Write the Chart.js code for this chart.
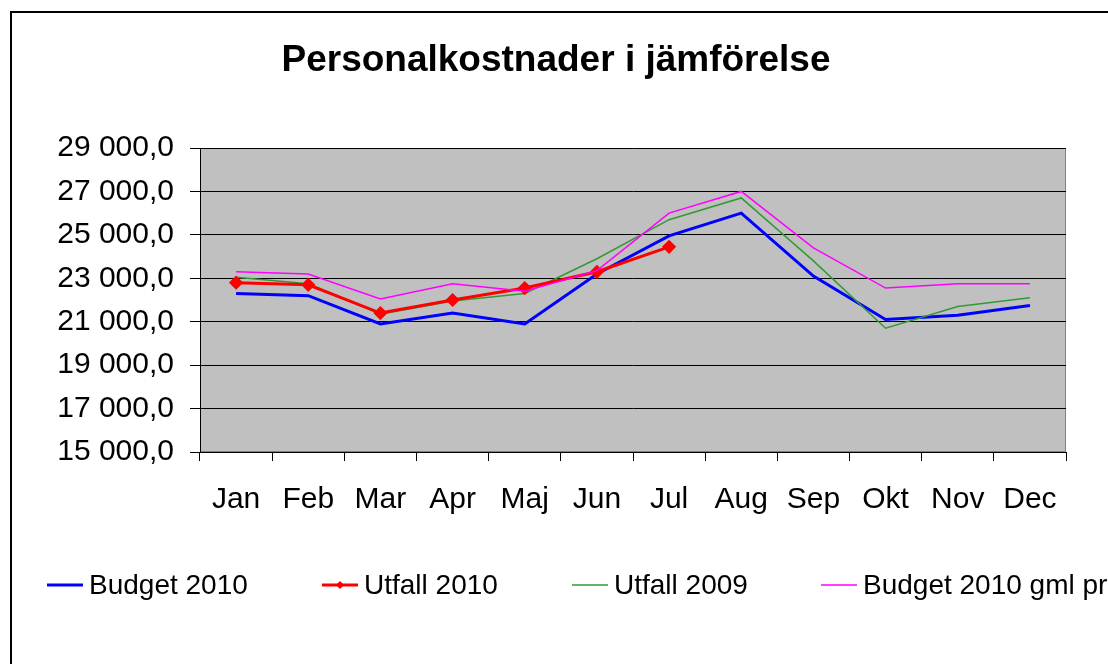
<!DOCTYPE html>
<html>
<head>
<meta charset="utf-8">
<script src="https://cdn.jsdelivr.net/npm/chart.js@4/dist/chart.umd.min.js"></script>
<style>
  html, body { margin: 0; padding: 0; background: #ffffff; overflow: hidden; }
  #wrap { position: relative; width: 1108px; height: 664px; }
</style>
</head>
<body>
<div id="wrap"><canvas id="c" width="1108" height="664"></canvas></div>
<script>
const months = ['Jan', 'Feb', 'Mar', 'Apr', 'Maj', 'Jun', 'Jul', 'Aug', 'Sep', 'Okt', 'Nov', 'Dec'];
const budget2010 = [22300, 22200, 20900, 21400, 20900, 23200, 24950, 26000, 23100, 21100, 21300, 21750];
const utfall2010 = [22800, 22700, 21400, 22000, 22550, 23300, 24450, null, null, null, null, null];
const utfall2009 = [23050, 22750, 21350, 21950, 22300, 23900, 25700, 26700, 23800, 20700, 21700, 22100];
const budget2010Gml = [23300, 23200, 22050, 22750, 22400, 23350, 26000, 27000, 24400, 22550, 22750, 22750];
const seriesNames = ['Budget 2010', 'Utfall 2010', 'Utfall 2009', 'Budget 2010 gml pri'];
const yMin = 15000, yMax = 29000, yStep = 2000;

const FONT = '"Liberation Sans", Arial, sans-serif';

function fmt(v) {
  return Math.round(v).toString().replace(/\B(?=(\d{3})+(?!\d))/g, ' ') + ',0';
}

const framePlugin = {
  id: 'frame',
  beforeDraw(chart) {
    const ctx = chart.ctx;
    ctx.save();
    ctx.fillStyle = '#ffffff';
    ctx.fillRect(0, 0, chart.width, chart.height);
    ctx.strokeStyle = '#000000';
    ctx.lineWidth = 2;
    ctx.strokeRect(11, 12, chart.width + 50, chart.height + 50);
    const a = chart.chartArea;
    ctx.fillStyle = '#C0C0C0';
    ctx.fillRect(a.left, a.top, a.right - a.left, a.bottom - a.top);
    ctx.strokeStyle = '#808080';
    ctx.lineWidth = 1;
    ctx.strokeRect(a.left + 0.5, a.top + 0.5, a.right - a.left - 1, a.bottom - a.top - 1);
    ctx.restore();
  }
};

const legendPlugin = {
  id: 'customLegend',
  afterDraw(chart, args, opts) {
    const ctx = chart.ctx;
    ctx.save();
    ctx.font = opts.font;
    ctx.textBaseline = 'middle';
    ctx.textAlign = 'left';
    chart.data.datasets.forEach((ds, i) => {
      const x = opts.xs[i], y = opts.y;
      ctx.strokeStyle = ds.borderColor;
      ctx.lineWidth = ds.borderWidth;
      ctx.beginPath();
      ctx.moveTo(x, y);
      ctx.lineTo(x + opts.lineLen, y);
      ctx.stroke();
      if (ds.pointRadius > 0) {
        ctx.fillStyle = ds.pointBackgroundColor;
        Chart.helpers.drawPoint(ctx, {pointStyle: ds.pointStyle, radius: ds.pointRadius - 1, borderWidth: 0, rotation: 0}, x + opts.lineLen / 2, y);
      }
      ctx.fillStyle = '#000000';
      ctx.fillText(ds.label, x + opts.lineLen + opts.gap, y + 1);
    });
    ctx.restore();
  }
};

new Chart(document.getElementById('c'), {
  type: 'line',
  data: {
    labels: months,
    datasets: [
      { label: seriesNames[0], data: budget2010, borderColor: '#0000FF', backgroundColor: '#0000FF', borderWidth: 3, pointRadius: 0, order: 3 },
      { label: seriesNames[1], data: utfall2010, borderColor: '#FF0000', backgroundColor: '#FF0000', pointBackgroundColor: '#FF0000', pointBorderColor: '#FF0000', borderWidth: 3, pointRadius: 5, pointStyle: 'rectRot', order: 1 },
      { label: seriesNames[2], data: utfall2009, borderColor: '#339933', backgroundColor: '#339933', borderWidth: 1.5, pointRadius: 0, order: 2 },
      { label: seriesNames[3], data: budget2010Gml, borderColor: '#FF00FF', backgroundColor: '#FF00FF', borderWidth: 1.5, pointRadius: 0, order: 0 }
    ]
  },
  options: {
    responsive: false,
    animation: false,
    layout: { padding: { left: 46, right: 42, top: 0, bottom: 132 } },
    plugins: {
      legend: { display: false },
      tooltip: { enabled: false },
      title: {
        display: true,
        text: 'Personalkostnader i jämförelse',
        color: '#000000',
        font: { family: FONT, size: 37, weight: 'bold' },
        padding: { top: 39, bottom: 64.6 }
      },
      customLegend: {
        xs: [47, 322, 572, 821],
        y: 585,
        lineLen: 36,
        gap: 6,
        font: '28px ' + FONT
      }
    },
    scales: {
      x: {
        offset: true,
        afterFit(scale) { scale.height = 80; },
        grid: { display: true, offset: true, drawOnChartArea: false, drawTicks: true, tickLength: 9, color: '#000000', lineWidth: 1 },
        border: { display: true, color: '#000000', width: 1 },
        ticks: { color: '#000000', font: { family: FONT, size: 30 }, padding: 21, maxRotation: 0, autoSkip: false }
      },
      y: {
        min: yMin,
        max: yMax,
        afterFit(scale) { scale.width = 154; },
        grid: { display: true, drawOnChartArea: true, drawTicks: true, tickLength: 10, color: '#000000', lineWidth: 1 },
        border: { display: true, color: '#000000', width: 1 },
        ticks: { stepSize: yStep, color: '#000000', font: { family: FONT, size: 30 }, padding: 16, callback: (v) => fmt(v) }
      }
    }
  },
  plugins: [framePlugin, legendPlugin]
});
</script>
</body>
</html>
